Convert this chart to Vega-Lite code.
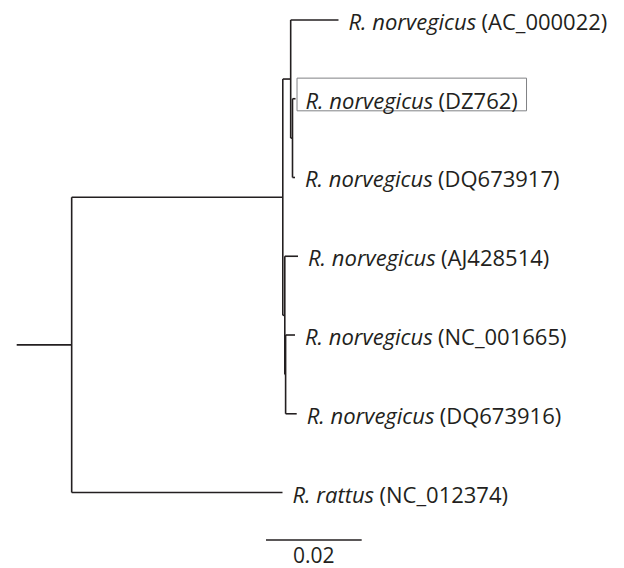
{
  "$schema": "https://vega.github.io/schema/vega-lite/v6.json",
  "width": 624,
  "height": 568,
  "autosize": {"type": "fit", "contains": "padding"},
  "padding": 0,
  "background": "white",
  "config": {"view": {"stroke": null}},
  "datasets": {
    "branches": [
      {"x": 0, "x2": 0.01149, "y": 4.125, "y2": 4.125},
      {"x": 0.01149, "x2": 0.05555, "y": 6, "y2": 6},
      {"x": 0.01149, "x2": 0.05561, "y": 2.25, "y2": 2.25},
      {"x": 0.05561, "x2": 0.05726, "y": 0.75, "y2": 0.75},
      {"x": 0.05726, "x2": 0.06725, "y": 0, "y2": 0},
      {"x": 0.05726, "x2": 0.05764, "y": 1.5, "y2": 1.5},
      {"x": 0.05764, "x2": 0.05827, "y": 1, "y2": 1},
      {"x": 0.05764, "x2": 0.05816, "y": 2, "y2": 2},
      {"x": 0.05561, "x2": 0.05603, "y": 3.75, "y2": 3.75},
      {"x": 0.05603, "x2": 0.05879, "y": 3, "y2": 3},
      {"x": 0.05603, "x2": 0.0562, "y": 4.5, "y2": 4.5},
      {"x": 0.0562, "x2": 0.05816, "y": 4, "y2": 4},
      {"x": 0.0562, "x2": 0.05852, "y": 5, "y2": 5},
      {"x": 0.01149, "x2": 0.01149, "y": 2.25, "y2": 6},
      {"x": 0.05561, "x2": 0.05561, "y": 0.75, "y2": 3.75},
      {"x": 0.05726, "x2": 0.05726, "y": 0, "y2": 1.5},
      {"x": 0.05764, "x2": 0.05764, "y": 1, "y2": 2},
      {"x": 0.05603, "x2": 0.05603, "y": 3, "y2": 4.5},
      {"x": 0.0562, "x2": 0.0562, "y": 4, "y2": 5}
    ],
    "labels": [
      {"species": "R. norvegicus", "accession": "(AC_000022)", "x": 0.06725, "y": 0, "boxed": false},
      {"species": "R. norvegicus", "accession": "(DZ762)", "x": 0.05827, "y": 1, "boxed": true},
      {"species": "R. norvegicus", "accession": "(DQ673917)", "x": 0.05816, "y": 2, "boxed": false},
      {"species": "R. norvegicus", "accession": "(AJ428514)", "x": 0.05879, "y": 3, "boxed": false},
      {"species": "R. norvegicus", "accession": "(NC_001665)", "x": 0.05816, "y": 4, "boxed": false},
      {"species": "R. norvegicus", "accession": "(DQ673916)", "x": 0.05852, "y": 5, "boxed": false},
      {"species": "R. rattus", "accession": "(NC_012374)", "x": 0.05555, "y": 6, "boxed": false}
    ],
    "scalebar": [
      {"x": 0.0521, "x2": 0.0721, "mid": 0.0621, "y": 6.603, "ylab": 6.9, "label": "0.02"}
    ]
  },
  "layer": [
    {
      "data": {"name": "branches"},
      "mark": {"type": "rule", "color": "#231f20", "strokeWidth": 1.6},
      "encoding": {
        "x": {"field": "x", "type": "quantitative", "axis": null, "scale": {"domain": [-0.00349, 0.12692], "nice": false, "zero": false}},
        "x2": {"field": "x2"},
        "y": {"field": "y", "type": "quantitative", "axis": null, "scale": {"domain": [-0.2535, 6.9455], "nice": false, "zero": false, "reverse": true}},
        "y2": {"field": "y2"}
      }
    },
    {
      "data": {"name": "labels"},
      "transform": [{"filter": "datum.boxed"}],
      "mark": {"type": "rect", "fillOpacity": 0, "stroke": "#808285", "strokeWidth": 1, "xOffset": 1.5, "x2Offset": 231, "yOffset": -20.6, "y2Offset": 12.1},
      "encoding": {
        "x": {"field": "x", "type": "quantitative", "axis": null},
        "x2": {"field": "x"},
        "y": {"field": "y", "type": "quantitative", "axis": null},
        "y2": {"field": "y"}
      }
    },
    {
      "data": {"name": "labels"},
      "mark": {"type": "text", "align": "left", "baseline": "alphabetic", "dx": 10, "dy": 10, "font": "Open Sans", "fontSize": 22, "fontStyle": "italic", "color": "#231f20"},
      "encoding": {
        "x": {"field": "x", "type": "quantitative", "axis": null},
        "y": {"field": "y", "type": "quantitative", "axis": null},
        "text": {"field": "species"}
      }
    },
    {
      "data": {"name": "labels"},
      "transform": [{"filter": "datum.species === 'R. norvegicus'"}],
      "mark": {"type": "text", "align": "left", "baseline": "alphabetic", "dx": 143, "dy": 10, "font": "Open Sans", "fontSize": 22, "color": "#231f20"},
      "encoding": {
        "x": {"field": "x", "type": "quantitative", "axis": null},
        "y": {"field": "y", "type": "quantitative", "axis": null},
        "text": {"field": "accession"}
      }
    },
    {
      "data": {"name": "labels"},
      "transform": [{"filter": "datum.species === 'R. rattus'"}],
      "mark": {"type": "text", "align": "left", "baseline": "alphabetic", "dx": 97, "dy": 10, "font": "Open Sans", "fontSize": 22, "color": "#231f20"},
      "encoding": {
        "x": {"field": "x", "type": "quantitative", "axis": null},
        "y": {"field": "y", "type": "quantitative", "axis": null},
        "text": {"field": "accession"}
      }
    },
    {
      "data": {"name": "scalebar"},
      "mark": {"type": "rule", "color": "#231f20", "strokeWidth": 1.6},
      "encoding": {
        "x": {"field": "x", "type": "quantitative", "axis": null},
        "x2": {"field": "x2"},
        "y": {"field": "y", "type": "quantitative", "axis": null}
      }
    },
    {
      "data": {"name": "scalebar"},
      "mark": {"type": "text", "align": "center", "baseline": "alphabetic", "font": "Open Sans", "fontSize": 21, "color": "#231f20"},
      "encoding": {
        "x": {"field": "mid", "type": "quantitative", "axis": null},
        "y": {"field": "ylab", "type": "quantitative", "axis": null},
        "text": {"field": "label"}
      }
    }
  ]
}
